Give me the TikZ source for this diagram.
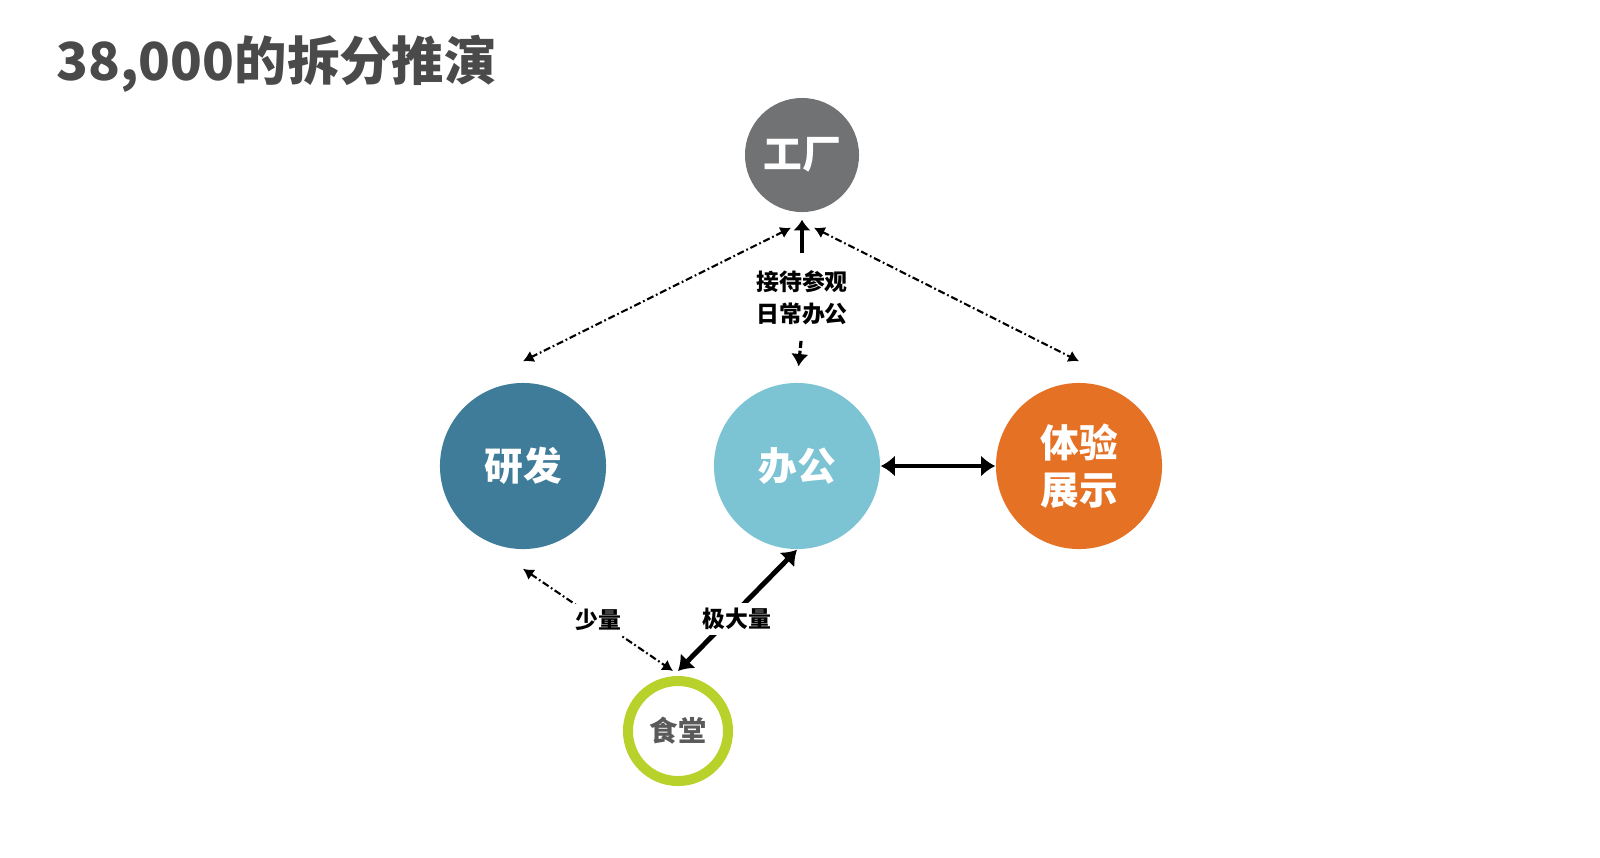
\documentclass[tikz,border=0pt]{standalone}
\usepackage{fontspec}
\setmainfont{Noto Sans CJK SC}
\usetikzlibrary{arrows.meta}
\definecolor{titlegray}{HTML}{4A4A4A}
\definecolor{factorygray}{HTML}{707274}
\definecolor{rdblue}{HTML}{3F7C99}
\definecolor{officeblue}{HTML}{7CC3D3}
\definecolor{showorange}{HTML}{E57125}
\definecolor{canteengreen}{HTML}{B9D12B}
\definecolor{canteentext}{HTML}{5A5A5A}
\begin{document}
\begin{tikzpicture}[x=0.01cm,y=-0.01cm,
  blob/.style={circle,inner sep=0pt,text=white,font=\fontsize{11}{13.4}\selectfont\bfseries,align=center},
  lbl/.style={fill=white,inner sep=1.5pt,font=\fontsize{6.5}{9}\selectfont\bfseries,align=center},
  dotline/.style={line width=0.6pt,dash pattern=on 2pt off 0.8pt on 0.5pt off 0.8pt,
    {Latex[length=3pt,width=3.5pt]}-{Latex[length=3pt,width=3.5pt]}},
  fatline/.style={line width=1.4pt,{Latex[length=4pt,width=6pt]}-{Latex[length=4pt,width=6pt]}}]
\useasboundingbox (0,0) rectangle (1600,857);

\node[anchor=base west,inner sep=0pt,text=titlegray,font=\fontsize{14.9}{18}\selectfont\bfseries]
  (title) at (56,80) {38,000的拆分推演};

\node[blob,fill=factorygray,minimum size=1.14cm] (gc) at (802,155) {工厂};
\node[blob,fill=rdblue,minimum size=1.66cm] (yf) at (523,466) {研发};
\node[blob,fill=officeblue,minimum size=1.66cm] (bg) at (797,466) {办公};
\node[blob,fill=showorange,minimum size=1.66cm] (ty) at (1079,466) {体验\\展示};
\node[circle,draw=canteengreen,line width=2.85pt,minimum size=1cm,inner sep=0pt,
  text=canteentext,font=\fontsize{8}{9}\selectfont\bfseries] (st) at (678,731) {食堂};

% factory links
\draw[dotline] ([xshift=-0.11cm,yshift=-0.15cm]gc.south) -- ([yshift=0.21cm]yf.north);
\draw[dotline] ([xshift=0.12cm,yshift=-0.15cm]gc.south) -- ([yshift=0.21cm]ty.north);
\node[lbl] (jd) at (802,298) {接待参观\\日常办公};
\draw[line width=0.9pt,-{Latex[length=3pt,width=5pt]},shorten <=0.12cm,shorten >=0.07cm] (jd.north) -- (gc.south);
\draw[line width=0.9pt,dash pattern=on 2pt off 0.8pt,-{Latex[length=3.5pt,width=5pt]},shorten <=0.1cm,shorten >=0.16cm] (jd.south) -- (bg.north);

% office and showroom
\draw[fatline] (bg) -- (ty);

% canteen
\draw[dotline] ([yshift=-0.19cm]yf.south) -- node[lbl]{少量} ([xshift=-0.05cm,yshift=0.05cm]st.north);
\draw[fatline] (bg.south) -- node[lbl,pos=0.57,xshift=0.08cm]{极大量} ([yshift=0.05cm]st.north);
\end{tikzpicture}
\end{document}
